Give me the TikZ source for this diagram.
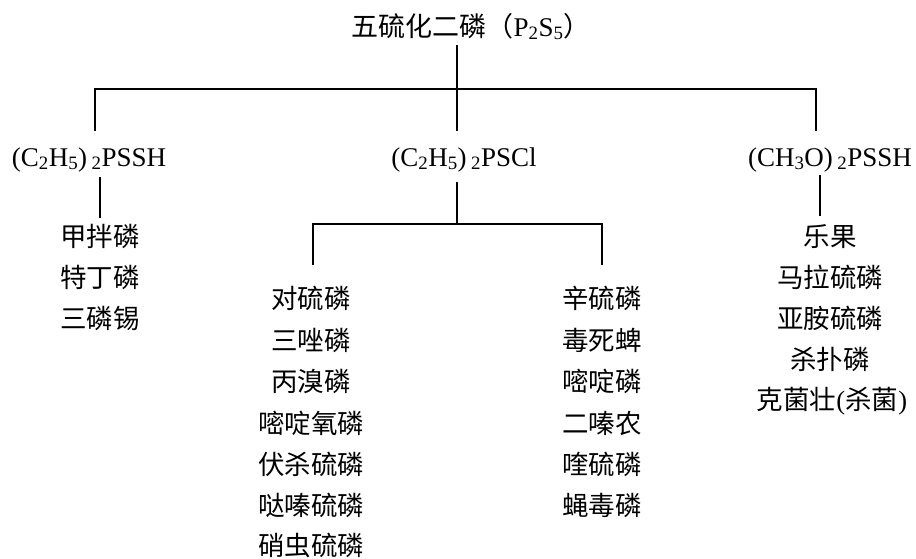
\documentclass[tikz,border=0pt]{standalone}
\usepackage{fontspec}
\setmainfont{Liberation Serif}
\newfontfamily\cjk{Noto Sans CJK SC}
\begin{document}
\begin{tikzpicture}[x=1pt,y=-1pt,
  conn/.style={line width=1.6pt, black},
  lbl/.style={anchor=base, inner sep=0pt, font=\fontsize{26.5}{30}\selectfont\cjk},
  chem/.style={anchor=base, inner sep=0pt, font=\fontsize{27}{30}\selectfont}]
\useasboundingbox (0,0) rectangle (916,558);
% title
\node[chem] (title) at (471,36) {{\cjk 五硫化二磷（}P\textsubscript{2}S\textsubscript{5}{\cjk ）}};
% headers
\node[chem] (hL) at (89,166) {(C\textsubscript{2}H\textsubscript{5})\,\textsubscript{2}PSSH};
\node[chem] (hM) at (464,166) {(C\textsubscript{2}H\textsubscript{5})\,\textsubscript{2}PSCl};
\node[chem] (hR) at (830,166) {(CH\textsubscript{3}O)\,\textsubscript{2}PSSH};
% coordinates for the tree
\coordinate (tB) at (457,45);
\coordinate (barL) at (95,89);
\coordinate (barM) at (457,89);
\coordinate (barR) at (816,89);
\coordinate (hLt) at (95,131);
\coordinate (hMt) at (457,131);
\coordinate (hRt) at (816,131);
\coordinate (hLb) at (100,177);
\coordinate (lLt) at (100,218);
\coordinate (hMb) at (457,182);
\coordinate (sub) at (457,224);
\coordinate (subL) at (313,224);
\coordinate (subR) at (602,224);
\coordinate (mLt) at (313,265);
\coordinate (mRt) at (602,265);
\coordinate (hRb) at (820,175);
\coordinate (lRt) at (820,216);
% left list
\node[lbl] (l1) at (100,246) {甲拌磷};
\node[lbl] (l2) at (100,287) {特丁磷};
\node[lbl] (l3) at (100,328) {三磷锡};
% middle-left list
\node[lbl] (a1) at (311,308) {对硫磷};
\node[lbl] (a2) at (311,350) {三唑磷};
\node[lbl] (a3) at (311,391) {丙溴磷};
\node[lbl] (a4) at (311,433) {嘧啶氧磷};
\node[lbl] (a5) at (311,474) {伏杀硫磷};
\node[lbl] (a6) at (311,515) {哒嗪硫磷};
\node[lbl] (a7) at (311,555) {硝虫硫磷};
% middle-right list
\node[lbl] (b1) at (602,308) {辛硫磷};
\node[lbl] (b2) at (602,350) {毒死蜱};
\node[lbl] (b3) at (602,391) {嘧啶磷};
\node[lbl] (b4) at (602,433) {二嗪农};
\node[lbl] (b5) at (602,474) {喹硫磷};
\node[lbl] (b6) at (602,515) {蝇毒磷};
% right list
\node[lbl] (r1) at (830,246) {乐果};
\node[lbl] (r2) at (830,287) {马拉硫磷};
\node[lbl] (r3) at (830,328) {亚胺硫磷};
\node[lbl] (r4) at (830,369) {杀扑磷};
\node[lbl] (r5) at (832,409) {克菌壮{\rmfamily(}杀菌{\rmfamily)}};
% connectors
\draw[conn] (tB) -- (hMt);
\draw[conn] (hLt) -- (barL) -- (barR) -- (hRt);
\draw[conn] (hLb) -- (lLt);
\draw[conn] (hMb) -- (sub);
\draw[conn] (mLt) -- (subL) -- (subR) -- (mRt);
\draw[conn] (hRb) -- (lRt);
\end{tikzpicture}
\end{document}
